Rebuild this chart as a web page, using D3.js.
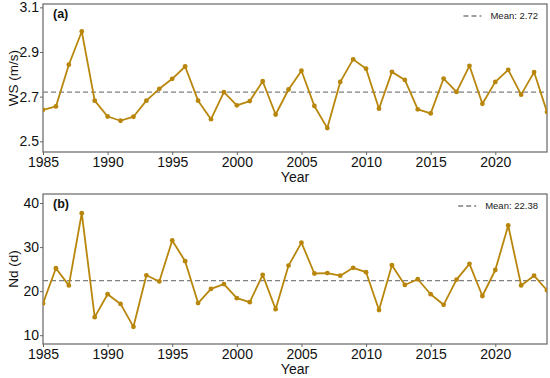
<!DOCTYPE html>
<html>
<head>
<meta charset="utf-8">
<script src="https://cdn.jsdelivr.net/npm/d3@7"></script>
<style>
  body { margin: 0; background: #fff; }
  svg { display: block; font-family: "Liberation Sans", Arial, sans-serif; }
</style>
</head>
<body>
<svg width="550" height="378"></svg>
<script>
// yearly series
var years = d3.range(1985, 2025);

var wsValues = [2.641, 2.656, 2.843, 2.992, 2.682, 2.611, 2.592, 2.610, 2.682, 2.735,
                2.780, 2.835, 2.682, 2.599, 2.720, 2.661, 2.680, 2.769, 2.620, 2.732,
                2.816, 2.658, 2.559, 2.766, 2.867, 2.825, 2.646, 2.811, 2.775, 2.643,
                2.625, 2.781, 2.721, 2.838, 2.668, 2.766, 2.820, 2.709, 2.810, 2.631];

var ndValues = [17.2, 25.2, 21.3, 37.7, 14.1, 19.3, 17.1, 11.9, 23.6, 22.2,
                31.5, 26.8, 17.3, 20.5, 21.6, 18.4, 17.5, 23.7, 15.9, 25.8,
                31.0, 24.0, 24.1, 23.5, 25.3, 24.3, 15.7, 25.9, 21.4, 22.7,
                19.3, 16.9, 22.6, 26.2, 18.9, 24.8, 34.9, 21.3, 23.5, 20.2];

var xTicks = [1985, 1990, 1995, 2000, 2005, 2010, 2015, 2020];
var wsTicks = [2.5, 2.7, 2.9, 3.1];
var ndTicks = [10, 20, 30, 40];

var wsMean = 2.72;
var ndMean = 22.38;

var svg = d3.select('svg');

var lineColor = '#b8860b';
var frameColor = '#666';

var plotLeft = 43, plotRight = 547;

var x = d3.scaleLinear()
    .domain([1985, 2024])
    .range([plotLeft, plotRight]);

var panels = [
    {id: 'a', label: '(a)', yLabel: 'WS (m/s)', values: wsValues, mean: wsMean,
     meanText: 'Mean: 2.72', ticks: wsTicks, fmt: d3.format('.1f'),
     domain: [2.452, 3.115], top: 4, bottom: 152},
    {id: 'b', label: '(b)', yLabel: 'Nd (d)', values: ndValues, mean: ndMean,
     meanText: 'Mean: 22.38', ticks: ndTicks, fmt: d3.format('d'),
     domain: [8, 42.05], top: 194, bottom: 344}
];

panels.forEach(function(p) {
    var y = d3.scaleLinear()
        .domain(p.domain)
        .range([p.bottom, p.top]);

    var g = svg.append('g').attr('class', 'panel-' + p.id);

    g.append('clipPath')
        .attr('id', 'clip-' + p.id)
        .append('rect')
        .attr('x', plotLeft)
        .attr('y', p.top)
        .attr('width', plotRight - plotLeft)
        .attr('height', p.bottom - p.top);

    // axes
    var xAxis = g.append('g')
        .attr('transform', 'translate(0,' + p.bottom + ')')
        .call(d3.axisBottom(x).tickValues(xTicks).tickFormat(d3.format('d')).tickSize(3).tickSizeOuter(0));
    xAxis.select('.domain').remove();
    xAxis.selectAll('line').attr('stroke', frameColor);
    xAxis.selectAll('text')
        .attr('font-size', 14)
        .attr('fill', '#111')
        .attr('y', 4)
        .attr('dy', '0.8em')
        .attr('font-family', '"Liberation Sans", Arial, sans-serif');

    var yAxis = g.append('g')
        .attr('transform', 'translate(' + plotLeft + ',0)')
        .call(d3.axisLeft(y).tickValues(p.ticks).tickFormat(p.fmt).tickSize(3).tickSizeOuter(0));
    yAxis.select('.domain').remove();
    yAxis.selectAll('line').attr('stroke', frameColor);
    yAxis.selectAll('text')
        .attr('font-size', 14)
        .attr('fill', '#111')
        .attr('x', -4)
        .attr('font-family', '"Liberation Sans", Arial, sans-serif');

    // frame
    g.append('rect')
        .attr('x', plotLeft)
        .attr('y', p.top)
        .attr('width', plotRight - plotLeft)
        .attr('height', p.bottom - p.top)
        .attr('fill', 'none')
        .attr('stroke', frameColor)
        .attr('stroke-width', 1.2);

    var plot = g.append('g').attr('clip-path', 'url(#clip-' + p.id + ')');

    // mean line
    plot.append('line')
        .attr('x1', plotLeft)
        .attr('x2', plotRight)
        .attr('y1', y(p.mean))
        .attr('y2', y(p.mean))
        .attr('stroke', '#808080')
        .attr('stroke-width', 1.3)
        .attr('stroke-dasharray', '5,3');

    var line = d3.line()
        .x(function(d, i) { return x(years[i]); })
        .y(function(d) { return y(d); });

    plot.append('path')
        .datum(p.values)
        .attr('d', line)
        .attr('fill', 'none')
        .attr('stroke', lineColor)
        .attr('stroke-width', 1.8)
        .attr('stroke-linejoin', 'round');

    plot.selectAll('.dot')
        .data(p.values)
        .enter()
        .append('circle')
        .attr('class', 'dot')
        .attr('cx', function(d, i) { return x(years[i]); })
        .attr('cy', function(d) { return y(d); })
        .attr('r', 2.4)
        .attr('fill', lineColor);

    // panel tag
    g.append('text')
        .attr('x', 53)
        .attr('y', p.top + 14)
        .attr('font-size', 12.5)
        .attr('font-weight', 'bold')
        .attr('fill', '#111')
        .text(p.label);

    // legend
    var lg = g.append('g')
        .attr('transform', 'translate(' + (plotRight - 9) + ',' + (p.top + 12) + ')');
    lg.append('text')
        .attr('text-anchor', 'end')
        .attr('dy', '0.35em')
        .attr('font-size', 9.5)
        .attr('fill', '#222')
        .text(p.meanText);
    var textW = lg.select('text').node().getComputedTextLength();
    lg.append('line')
        .attr('x1', -textW - 27)
        .attr('x2', -textW - 9)
        .attr('y1', 0)
        .attr('y2', 0)
        .attr('stroke', '#808080')
        .attr('stroke-width', 1.3)
        .attr('stroke-dasharray', '5,3');

    // axis titles
    g.append('text')
        .attr('transform', 'translate(18,' + ((p.top + p.bottom) / 2) + ') rotate(-90)')
        .attr('text-anchor', 'middle')
        .attr('font-size', 13.5)
        .attr('fill', '#111')
        .text(p.yLabel);

    g.append('text')
        .attr('x', 295)
        .attr('y', p.bottom + 30)
        .attr('text-anchor', 'middle')
        .attr('font-size', 14)
        .attr('fill', '#111')
        .text('Year');
});
</script>
</body>
</html>
